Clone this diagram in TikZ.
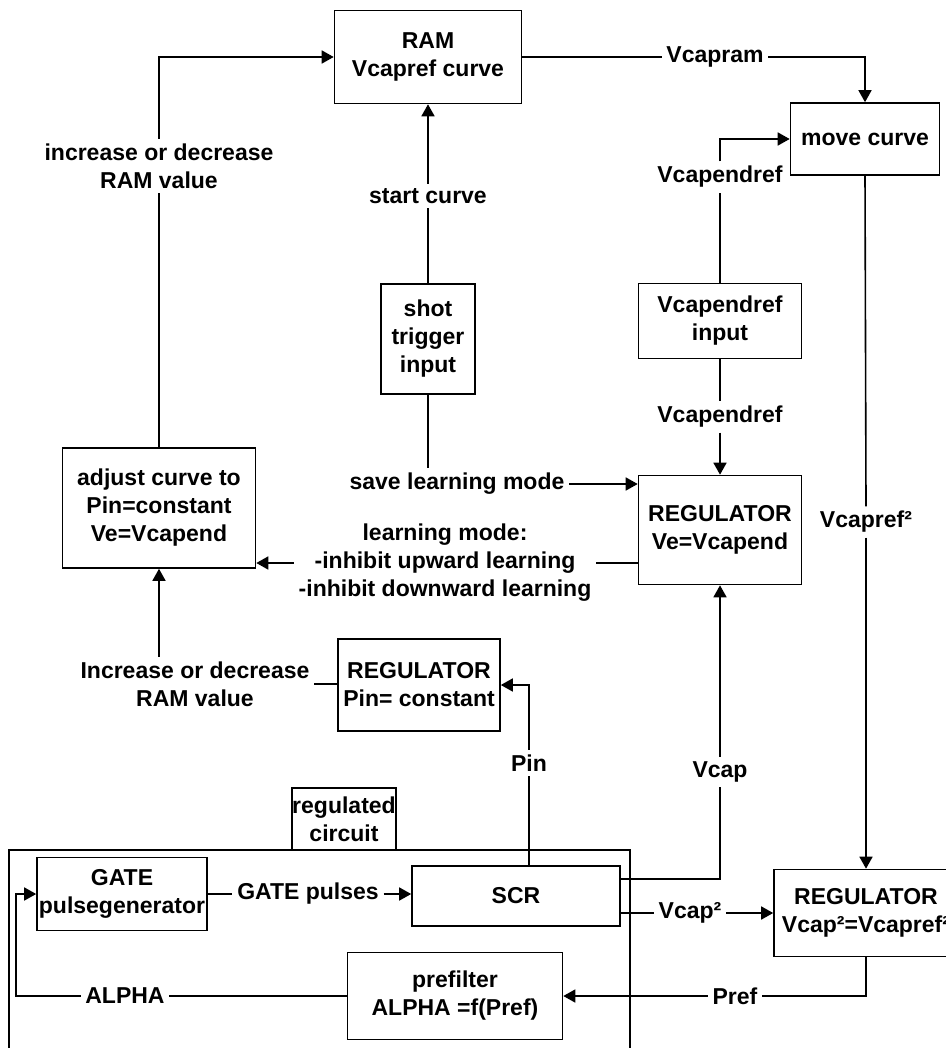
\documentclass[tikz,border=0pt]{standalone}
\usepackage{fontspec}
\setmainfont{Liberation Sans}
\usetikzlibrary{arrows.meta}

\begin{document}
\begin{tikzpicture}[x=0.5pt,y=-0.5pt,line width=0.8pt,
    every node/.style={font=\bfseries\fontsize{11.5}{14}\selectfont},
    blk/.style={draw,align=center,inner sep=0pt},
    lbl/.style={align=center,inner sep=2pt},
    arr/.style={-{Triangle[length=6pt,width=6.5pt]}}]
    \useasboundingbox (0,0) rectangle (946,1048);
    %\draw[loosely dotted] (0,0) grid (946,1048);
    % blocks
    \node[blk,minimum width=93.5pt,minimum height=46.5pt] (ram) at (428,57) {RAM\\Vcapref curve};
    \node[blk,minimum width=74.5pt,minimum height=36pt] (move) at (865,139) {move curve};
    \node[blk,minimum width=47pt,minimum height=55pt] (shot) at (428,339) {shot\\trigger\\input};
    \node[blk,minimum width=81.5pt,minimum height=37.5pt] (vin) at (720,321) {Vcapendref\\input};
    \node[blk,minimum width=81.5pt,minimum height=54.5pt] (reg1) at (720,530) {REGULATOR\\Ve=Vcapend};
    \node[blk,minimum width=96.5pt,minimum height=60pt] (adj) at (159,508) {adjust curve to\\Pin=constant\\Ve=Vcapend};
    \node[blk,minimum width=81pt,minimum height=46pt] (reg2) at (419,685) {REGULATOR\\Pin= constant};
    \node[blk,minimum width=52pt,minimum height=31pt] (regc) at (344,819) {regulated\\circuit};
    \node[blk,minimum width=85pt,minimum height=36.5pt] (gate) at (122,894) {GATE\\pulsegenerator};
    \node[blk,minimum width=104pt,minimum height=30pt] (scr) at (516,896) {SCR};
    \node[blk,minimum width=92pt,minimum height=43.5pt] (reg3) at (866,913) {REGULATOR\\Vcap²=Vcapref²};
    \node[blk,minimum width=107.5pt,minimum height=43.5pt] (pre) at (455,996) {prefilter\\ALPHA =f(Pref)};
    \draw (9,850) rectangle (630,1060);
    % signal labels
    \node[lbl] (lbInc) at (159,166) {increase or decrease\\RAM value};
    \node[lbl] (lbStart) at (428,196) {start curve};
    \node[lbl] (lbVram) at (715,57) {Vcapram};
    \node[lbl] (lbVe1) at (720,177) {Vcapendref};
    \node[lbl] (lbVe2) at (720,417) {Vcapendref};
    \node[lbl] (lbSave) at (457,484) {save learning mode};
    \node[lbl] (lbLearn) at (445,563) {learning mode:\\-inhibit upward learning\\-inhibit downward learning};
    \node[lbl] (lbInc2) at (195,684) {Increase or decrease\\RAM value};
    \node[lbl] (lbPin) at (529,763) {Pin};
    \node[lbl] (lbVcap) at (720,772) {Vcap};
    \node[lbl] (lbVcref) at (866,522) {Vcapref²};
    \node[lbl] (lbVcap2) at (690,913) {Vcap²};
    \node[lbl] (lbPref) at (735,996) {Pref};
    \node[lbl] (lbAlpha) at (125,996) {ALPHA};
    \node[lbl] (lbGate) at (308,894) {GATE pulses};
    \coordinate (alphaL) at (16,996);
    % connections
    \draw (adj.north) -- (lbInc.south);
    \draw[arr] (lbInc.north) |- (ram.west);
    \draw (shot.north) -- (lbStart.south);
    \draw[arr] (lbStart.north) -- (ram.south);
    \draw (ram.east) -- (lbVram.west);
    \draw[arr] (lbVram.east) -| (move.north);
    \draw (vin.north) -- (lbVe1.south);
    \draw[arr] (lbVe1.north) |- (move.west);
    \draw (vin.south) -- (lbVe2.north);
    \draw[arr] (lbVe2.south) -- (reg1.north);
    \draw (shot.south) -- (shot.south |- lbSave.north);
    \draw[arr] (lbSave.east) -- (lbSave -| reg1.west);
    \draw (lbLearn -| reg1.west) -- (lbLearn.east);
    \draw[arr] (lbLearn.west) -- (lbLearn -| adj.east);
    \draw (lbInc2 -| reg2.west) -- (lbInc2.east);
    \draw[arr] (adj.south |- lbInc2.north) -- (adj.south);
    \draw (scr.north -| lbPin) -- (lbPin.south);
    \draw[arr] (lbPin.north) |- (reg2.east);
    \draw ([yshift=8.5pt]scr.east) -| (lbVcap.south);
    \draw[arr] (lbVcap.north) -- (reg1.south);
    \draw ([yshift=-8.5pt]scr.east) -- (lbVcap2.west);
    \draw[arr] (lbVcap2.east) -- (reg3.west);
    \draw (move.south) -- (lbVcref.north);
    \draw[arr] (lbVcref.south) -- (reg3.north);
    \draw (reg3.south) |- (lbPref.east);
    \draw[arr] (lbPref.west) -- (lbPref -| pre.east);
    \draw (pre.west) -- (lbAlpha.east);
    \draw[arr] (lbAlpha.west) -- (alphaL) |- (gate.west);
    \draw (gate.east) -- (lbGate.west);
    \draw[arr] (lbGate.east) -- (lbGate -| scr.west);
    %\draw[red] (0,0) rectangle (946,1048);
\end{tikzpicture}
\end{document}
